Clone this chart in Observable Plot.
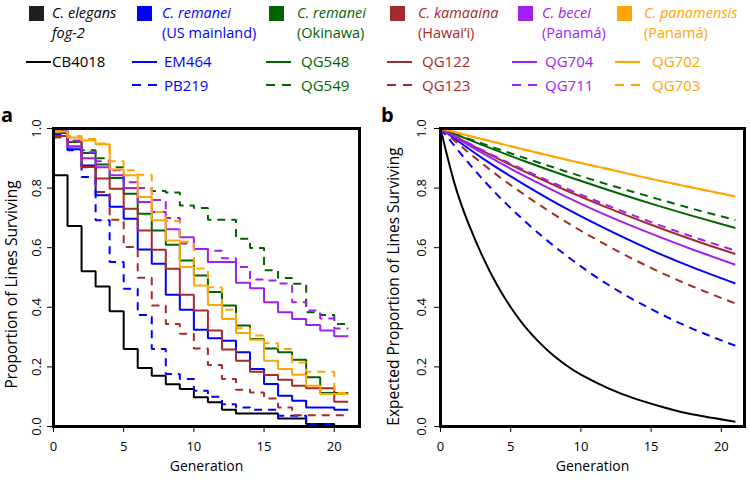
<!DOCTYPE html>
<html>
<head>
<meta charset="utf-8">
<script src="https://cdn.jsdelivr.net/npm/d3@7"></script>
<script src="https://cdn.jsdelivr.net/npm/@observablehq/plot@0.6"></script>
<style>
  body { margin: 0; background: #fff; font-family: "Open Sans", sans-serif; }
  #fig { position: relative; width: 750px; height: 481px; overflow: hidden; background: #fff; }
  .abs { position: absolute; white-space: nowrap; }
  .sp { font-size: 14.5px; line-height: 20px; height: 20px; }
  .st { font-size: 15px; line-height: 17px; height: 17px; }
  .panel { position: absolute; }
  .plabel { position: absolute; font-weight: bold; font-size: 20px; line-height: 20px; }
</style>
</head>
<body>
<div id="fig"></div>
<script>
// ---- Species (legend header) ----
const speciesNames = ["C. elegans", "C. remanei", "C. remanei", "C. kamaaina", "C. becei", "C. panamensis"];
const speciesSublines = ["fog-2", "(US mainland)", "(Okinawa)", "(Hawai\u2019i)", "(Panam\u00e1)", "(Panam\u00e1)"];
const speciesColors = ["#000000", "#0000ff", "#006400", "#a52a2a", "#a020f0", "#ffa500"];

// ---- Strains, in drawing order ----
const strains = ["CB4018", "EM464", "PB219", "QG548", "QG549", "QG122", "QG123", "QG704", "QG711", "QG702", "QG703"];
const strainColors = ["#000000", "#0000ff", "#0000ff", "#006400", "#006400", "#a52a2a", "#a52a2a", "#a020f0", "#a020f0", "#ffa500", "#ffa500"];
const strainDashed = [false, false, true, false, true, false, true, false, true, false, true];

// ---- Panel a: observed proportion of lines surviving, by generation ----
const generations = [0, 1, 2, 3, 4, 5, 6, 7, 8, 9, 10, 11, 12, 13, 14, 15, 16, 17, 18, 19, 20, 21];
const observedCB4018 = [0.843, 0.673, 0.521, 0.470, 0.387, 0.260, 0.196, 0.170, 0.142, 0.126, 0.098, 0.081, 0.056, 0.044, 0.044, 0.044, 0.027, 0.027, 0.008, 0.008, 0.000, 0.000];
const observedEM464  = [0.990, 0.930, 0.876, 0.776, 0.737, 0.697, 0.594, 0.546, 0.442, 0.392, 0.325, 0.296, 0.288, 0.249, 0.193, 0.143, 0.103, 0.086, 0.064, 0.064, 0.056, 0.056];
const observedPB219  = [0.980, 0.927, 0.837, 0.692, 0.552, 0.462, 0.374, 0.260, 0.176, 0.159, 0.120, 0.100, 0.075, 0.064, 0.056, 0.056, 0.036, 0.036, 0.008, 0.008, 0.000, 0.000];
const observedQG548  = [0.985, 0.955, 0.918, 0.879, 0.834, 0.781, 0.714, 0.658, 0.610, 0.557, 0.507, 0.451, 0.406, 0.339, 0.294, 0.262, 0.249, 0.224, 0.165, 0.112, 0.112, 0.112];
const observedQG549  = [0.990, 0.955, 0.927, 0.900, 0.870, 0.800, 0.800, 0.790, 0.785, 0.742, 0.733, 0.694, 0.694, 0.630, 0.599, 0.524, 0.498, 0.479, 0.383, 0.374, 0.344, 0.344];
const observedQG122  = [0.975, 0.940, 0.871, 0.832, 0.798, 0.731, 0.658, 0.593, 0.529, 0.442, 0.389, 0.322, 0.258, 0.221, 0.184, 0.173, 0.157, 0.137, 0.128, 0.128, 0.083, 0.083];
const observedQG123  = [0.970, 0.955, 0.870, 0.787, 0.694, 0.602, 0.499, 0.406, 0.344, 0.311, 0.262, 0.206, 0.159, 0.123, 0.114, 0.094, 0.064, 0.038, 0.038, 0.038, 0.038, 0.038];
const observedQG704  = [0.994, 0.940, 0.900, 0.870, 0.843, 0.800, 0.753, 0.720, 0.662, 0.635, 0.596, 0.552, 0.552, 0.482, 0.464, 0.417, 0.383, 0.361, 0.341, 0.322, 0.303, 0.303];
const observedQG711  = [0.990, 0.960, 0.920, 0.890, 0.860, 0.820, 0.800, 0.760, 0.700, 0.614, 0.596, 0.590, 0.565, 0.535, 0.493, 0.490, 0.480, 0.417, 0.389, 0.362, 0.329, 0.329];
const observedQG702  = [0.990, 0.970, 0.960, 0.947, 0.862, 0.843, 0.770, 0.692, 0.624, 0.535, 0.473, 0.408, 0.361, 0.314, 0.291, 0.221, 0.193, 0.174, 0.137, 0.109, 0.109, 0.109];
const observedQG703  = [0.990, 0.975, 0.965, 0.950, 0.890, 0.860, 0.845, 0.720, 0.690, 0.620, 0.530, 0.467, 0.392, 0.330, 0.305, 0.279, 0.260, 0.215, 0.184, 0.184, 0.112, 0.112];
const observed = [observedCB4018, observedEM464, observedPB219, observedQG548, observedQG549, observedQG122, observedQG123, observedQG704, observedQG711, observedQG702, observedQG703];

// ---- Panel b: expected proportion of lines surviving ----
const expectedGenerations = [0, 3, 6, 9, 12, 15, 18, 21];
const expectedCB4018Generations = [0, 1, 2, 3, 4, 5, 6, 7, 8, 9, 10, 12, 14, 16, 18, 21];
const expectedCB4018 = [1, 0.815, 0.680, 0.570, 0.477, 0.400, 0.336, 0.284, 0.240, 0.204, 0.174, 0.127, 0.091, 0.063, 0.040, 0.016];
const expectedEM464  = [1, 0.900, 0.811, 0.730, 0.658, 0.592, 0.533, 0.480];
const expectedPB219  = [1, 0.830, 0.689, 0.572, 0.474, 0.394, 0.327, 0.271];
const expectedQG548  = [1, 0.944, 0.890, 0.840, 0.793, 0.748, 0.706, 0.666];
const expectedQG549  = [1, 0.949, 0.901, 0.855, 0.811, 0.770, 0.730, 0.693];
const expectedQG122  = [1, 0.925, 0.855, 0.791, 0.732, 0.677, 0.626, 0.579];
const expectedQG123  = [1, 0.881, 0.777, 0.685, 0.604, 0.532, 0.469, 0.413];
const expectedQG704  = [1, 0.917, 0.840, 0.770, 0.705, 0.647, 0.593, 0.543];
const expectedQG711  = [1, 0.927, 0.860, 0.798, 0.740, 0.686, 0.636, 0.590];
const expectedQG702  = [1, 0.964, 0.929, 0.895, 0.863, 0.831, 0.801, 0.772];
const expectedQG703  = [1, 0.964, 0.929, 0.895, 0.863, 0.831, 0.801, 0.772];
const expected = [expectedCB4018, expectedEM464, expectedPB219, expectedQG548, expectedQG549, expectedQG122, expectedQG123, expectedQG704, expectedQG711, expectedQG702, expectedQG703];

// ---- Axis ticks ----
const generationTicks = [0, 5, 10, 15, 20];
const proportionTicks = [0, 0.2, 0.4, 0.6, 0.8, 1.0];

const fig = document.getElementById("fig");
const dash = "8,6";

function el(tag, cls, css, html) {
  const e = document.createElement(tag);
  if (cls) e.className = cls;
  Object.assign(e.style, css);
  if (html != null) e.innerHTML = html;
  fig.appendChild(e);
  return e;
}

// ---- Legend ----
const squareLeft = [29, 137, 269, 390, 518, 617];
const speciesLeft = [52, 162, 297, 418, 542, 644];
const swatchLeft = [26, 132, 266, 387, 512, 615];
const strainLeft = [52, 164, 301, 422, 545, 652];

speciesNames.forEach((name, i) => {
  el("div", "abs", {left: squareLeft[i] + "px", top: "6px", width: "15px", height: "15px",
    background: i === 0 ? "#231f20" : speciesColors[i]});
  el("div", "abs sp", {left: speciesLeft[i] + "px", top: "2.6px", color: speciesColors[i], fontStyle: "italic"}, name);
  el("div", "abs sp", {left: speciesLeft[i] + "px", top: "22.6px", color: speciesColors[i],
    fontStyle: i === 0 ? "italic" : "normal"}, speciesSublines[i]);
});

function swatch(left, y, color, dashed) {
  const svg = `<svg width="26" height="6"><line x1="0" x2="25" y1="3" y2="3" stroke="${color}" stroke-width="2"${dashed ? ' stroke-dasharray="9,7"' : ""}/></svg>`;
  el("div", "abs", {left: left + "px", top: (y - 3) + "px", width: "26px", height: "6px", lineHeight: "0"}, svg);
}

strains.forEach((s, k) => {
  const col = speciesColors.indexOf(strainColors[k]);
  const dashed = strainDashed[k];
  const y = dashed ? 85 : 61.5;
  swatch(swatchLeft[col], y, strainColors[k], dashed);
  el("div", "abs st", {left: strainLeft[col] + "px", top: (dashed ? 76.5 : 52.7) + "px", color: strainColors[k]}, s);
});

// ---- Panels ----
const baseStyle = {fontFamily: "Open Sans", fontSize: "13px", color: "#000", background: "transparent", overflow: "visible"};

function strainLines(xs, valuesList, curve) {
  return strains.map((s, k) => {
    const gx = Array.isArray(xs[0]) ? xs[k] : xs;
    const rows = gx.map((g, i) => ({g, p: valuesList[k][i]}));
    return Plot.line(rows, {
      x: "g", y: "p", curve,
      stroke: strainColors[k], strokeWidth: 2,
      strokeDasharray: strainDashed[k] ? dash : null,
      strokeLinecap: "butt", strokeLinejoin: "miter"
    });
  });
}

function yTitle(text, dx, dy) {
  return Plot.text([text], {text: d => d, frameAnchor: "left", dx, dy, rotate: -90,
    textAnchor: "middle", lineAnchor: "middle", fontSize: 15.5});
}

const panelA = Plot.plot({
  width: 375, height: 386,
  marginLeft: 53, marginRight: 16, marginTop: 33, marginBottom: 55,
  style: baseStyle,
  x: {domain: [0, 21.8], ticks: generationTicks, tickSize: 6, tickPadding: 9, label: null},
  y: {domain: [0, 1], ticks: proportionTicks, tickFormat: d3.format(".1f"), tickSize: 6, tickPadding: 7, tickRotate: -90, label: null},
  marks: [
    ...strainLines(generations, observed, "step-after"),
    Plot.frame({stroke: "#000", strokeWidth: 3}),
    yTitle("Proportion of Lines Surviving", -41, 7),
    Plot.text(["Generation"], {text: d => d, frameAnchor: "bottom", dy: 44, fontSize: 14})
  ]
});

const expectedXs = strains.map((s, k) => k === 0 ? expectedCB4018Generations : expectedGenerations);
const panelB = Plot.plot({
  width: 375, height: 386,
  marginLeft: 65, marginRight: 6, marginTop: 33, marginBottom: 55,
  style: baseStyle,
  x: {domain: [0, 21.65], ticks: generationTicks, tickSize: 6, tickPadding: 9, label: null},
  y: {domain: [0, 1], ticks: proportionTicks, tickFormat: d3.format(".1f"), tickSize: 6, tickPadding: 9, tickRotate: -90, label: null},
  marks: [
    ...strainLines(expectedXs, expected, "natural"),
    Plot.frame({stroke: "#000", strokeWidth: 3}),
    yTitle("Expected Proportion of Lines Surviving", -46, 9),
    Plot.text(["Generation"], {text: d => d, frameAnchor: "bottom", dy: 44, fontSize: 14})
  ]
});

const wrapA = el("div", "panel", {left: "0px", top: "95px"});
wrapA.appendChild(panelA);
const wrapB = el("div", "panel", {left: "375px", top: "95px"});
wrapB.appendChild(panelB);

el("div", "plabel", {left: "1px", top: "105px"}, "a");
el("div", "plabel", {left: "381px", top: "105px"}, "b");
</script>
</body>
</html>
